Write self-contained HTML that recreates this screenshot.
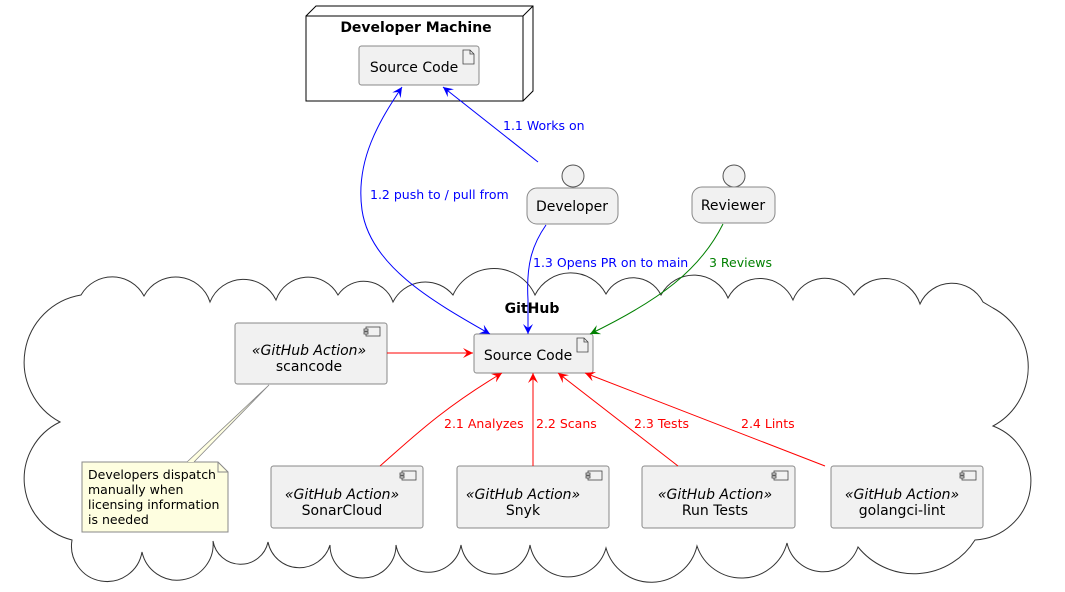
<!DOCTYPE html>
<html><head><meta charset="utf-8"><style>
html,body{margin:0;padding:0;background:#fff;}
svg{display:block;font-family:"DejaVu Sans","Liberation Sans",sans-serif;}
</style></head><body>
<svg width="1065" height="592" viewBox="0 0 1065 592" xmlns="http://www.w3.org/2000/svg">
<defs>
<marker id="ab" markerWidth="12" markerHeight="10" refX="10" refY="5" orient="auto" markerUnits="userSpaceOnUse"><path d="M0,0 L10,5 L0,10 L4,5 Z" fill="#0000ff"/></marker>
<marker id="abs" markerWidth="12" markerHeight="10" refX="10" refY="5" orient="auto-start-reverse" markerUnits="userSpaceOnUse"><path d="M0,0 L10,5 L0,10 L4,5 Z" fill="#0000ff"/></marker>
<marker id="ar" markerWidth="12" markerHeight="10" refX="10" refY="5" orient="auto" markerUnits="userSpaceOnUse"><path d="M0,0 L10,5 L0,10 L4,5 Z" fill="#ff0000"/></marker>
<marker id="ag" markerWidth="12" markerHeight="10" refX="10" refY="5" orient="auto" markerUnits="userSpaceOnUse"><path d="M0,0 L10,5 L0,10 L4,5 Z" fill="#008000"/></marker>
<g id="art"><path d="M0,0 h7 l4,4 v10 h-11 Z M7,0 v4 h4" fill="none" stroke="#444" stroke-width="0.8"/></g>
<g id="comp"><rect x="2" y="0" width="14" height="9" fill="none" stroke="#444" stroke-width="0.8"/><rect x="0" y="2" width="4" height="2" fill="#f1f1f1" stroke="#444" stroke-width="0.8"/><rect x="0" y="5" width="4" height="2" fill="#f1f1f1" stroke="#444" stroke-width="0.8"/></g>
</defs>

<!-- Cloud -->
<path d="M81,295 A36,36 0 0 1 144,296 A36,36 0 0 1 210,302 A36,36 0 0 1 276,300 A34,34 0 0 1 338,295 A31,31 0 0 1 393,302 A36,36 0 0 1 453,295 A45,45 0 0 1 535,295 A40,40 0 0 1 606,294 A31,31 0 0 1 661,295 A37,37 0 0 1 728,298 A36,36 0 0 1 793,300 A34,34 0 0 1 854,295 A37,37 0 0 1 920,304 A35,35 0 0 1 983,302 L993,308 A67,67 0 0 1 993,426 A59,59 0 0 1 975,540 A72,72 0 0 1 858,547 A37,37 0 0 1 787,543 A47,47 0 0 1 697,546 A47,47 0 0 1 606,548 A39,39 0 0 1 530,545 A35,35 0 0 1 461,545 A33,33 0 0 1 396,545 A33,33 0 0 1 330,545 A32,32 0 0 1 268,542 A28,28 0 0 1 213,541 A36,36 0 0 1 142,552 A35,35 0 0 1 72,540 A63,63 0 0 1 60,422 A68,68 0 0 1 81,295 Z" fill="#fff" stroke="#333" stroke-width="1"/>
<text x="532" y="313" font-size="14" font-weight="bold" text-anchor="middle">GitHub</text>

<!-- Developer Machine node -->
<path d="M306,16 L316,6 L533,6 L533,91 L523,101" fill="#fff" stroke="#000" stroke-width="1"/>
<line x1="523" y1="16" x2="533" y2="6" stroke="#000"/>
<rect x="306" y="16" width="217" height="85" fill="#fff" stroke="#000" stroke-width="1"/>
<text x="416" y="32" font-size="14" font-weight="bold" text-anchor="middle">Developer Machine</text>
<rect x="359" y="46" width="120" height="39" rx="2.5" fill="#f1f1f1" stroke="#888"/>
<text x="414" y="72" font-size="14" text-anchor="middle">Source Code</text>
<use href="#art" x="463" y="50"/>

<!-- Actors -->
<circle cx="573" cy="176" r="11" fill="#f1f1f1" stroke="#555"/>
<rect x="527" y="188" width="91" height="36" rx="10" fill="#f1f1f1" stroke="#888"/>
<text x="572" y="211" font-size="14" text-anchor="middle">Developer</text>
<circle cx="734" cy="176" r="11" fill="#f1f1f1" stroke="#555"/>
<rect x="692" y="187" width="83" height="36" rx="10" fill="#f1f1f1" stroke="#888"/>
<text x="733" y="210" font-size="14" text-anchor="middle">Reviewer</text>

<!-- GitHub Source Code -->
<rect x="474" y="334" width="119" height="39" rx="2.5" fill="#f1f1f1" stroke="#888"/>
<text x="528" y="360" font-size="14" text-anchor="middle">Source Code</text>
<use href="#art" x="577" y="338"/>

<!-- scancode -->
<rect x="235" y="323" width="152" height="61" rx="2.5" fill="#f1f1f1" stroke="#888"/>
<use href="#comp" x="364" y="327"/>
<text x="309" y="355" font-size="14" font-style="italic" text-anchor="middle">«GitHub Action»</text>
<text x="309" y="371" font-size="14" text-anchor="middle">scancode</text>

<!-- bottom components -->
<g font-size="14" text-anchor="middle">
<rect x="271" y="466" width="152" height="62" rx="2.5" fill="#f1f1f1" stroke="#888"/>
<use href="#comp" x="400" y="471"/>
<text x="342" y="499" font-style="italic">«GitHub Action»</text>
<text x="342" y="515">SonarCloud</text>

<rect x="457" y="466" width="152" height="62" rx="2.5" fill="#f1f1f1" stroke="#888"/>
<use href="#comp" x="586" y="471"/>
<text x="523" y="499" font-style="italic">«GitHub Action»</text>
<text x="523" y="515">Snyk</text>

<rect x="642" y="466" width="153" height="62" rx="2.5" fill="#f1f1f1" stroke="#888"/>
<use href="#comp" x="772" y="471"/>
<text x="715" y="499" font-style="italic">«GitHub Action»</text>
<text x="715" y="515">Run Tests</text>

<rect x="831" y="466" width="152" height="62" rx="2.5" fill="#f1f1f1" stroke="#888"/>
<use href="#comp" x="960" y="471"/>
<text x="902" y="499" font-style="italic">«GitHub Action»</text>
<text x="902" y="515">golangci-lint</text>
</g>

<!-- Note -->
<path d="M82,462 L218,462 L228,472 L228,532 L82,532 Z" fill="#fefee0" stroke="#888"/>
<path d="M218,462 L218,472 L228,472" fill="none" stroke="#888"/>
<path d="M187,462 L269,385 L194,462" fill="#fefee0" stroke="#888" stroke-width="0.8"/>
<g font-size="12.5">
<text x="88" y="479">Developers dispatch</text>
<text x="88" y="494">manually when</text>
<text x="88" y="509">licensing information</text>
<text x="88" y="524">is needed</text>
</g>

<!-- Connectors -->
<path d="M538,162 L443,87" fill="none" stroke="#0000ff" marker-end="url(#ab)"/>
<path d="M402,87 C380,120 355,160 362,210 C370,265 430,300 490,334" fill="none" stroke="#0000ff" marker-start="url(#abs)" marker-end="url(#ab)"/>
<path d="M546,225 C532,245 526,265 528,300 L528,334" fill="none" stroke="#0000ff" marker-end="url(#ab)"/>
<path d="M723,224 C700,270 660,300 590,334" fill="none" stroke="#008000" marker-end="url(#ag)"/>
<path d="M387,353 L473,353" fill="none" stroke="#ff0000" marker-end="url(#ar)"/>
<path d="M380,466 C410,440 440,410 502,373" fill="none" stroke="#ff0000" marker-end="url(#ar)"/>
<path d="M533,466 L533,373" fill="none" stroke="#ff0000" marker-end="url(#ar)"/>
<path d="M678,466 L558,373" fill="none" stroke="#ff0000" marker-end="url(#ar)"/>
<path d="M825,466 L585,373" fill="none" stroke="#ff0000" marker-end="url(#ar)"/>

<!-- Labels -->
<g font-size="12.5">
<text x="503" y="130" fill="#0000ff">1.1 Works on</text>
<text x="370" y="199" fill="#0000ff">1.2 push to / pull from</text>
<text x="533" y="267" fill="#0000ff">1.3 Opens PR on to main</text>
<text x="709" y="267" fill="#008000">3 Reviews</text>
<text x="444" y="428" fill="#ff0000">2.1 Analyzes</text>
<text x="536" y="428" fill="#ff0000">2.2 Scans</text>
<text x="634" y="428" fill="#ff0000">2.3 Tests</text>
<text x="741" y="428" fill="#ff0000">2.4 Lints</text>
</g>
</svg>
</body></html>
